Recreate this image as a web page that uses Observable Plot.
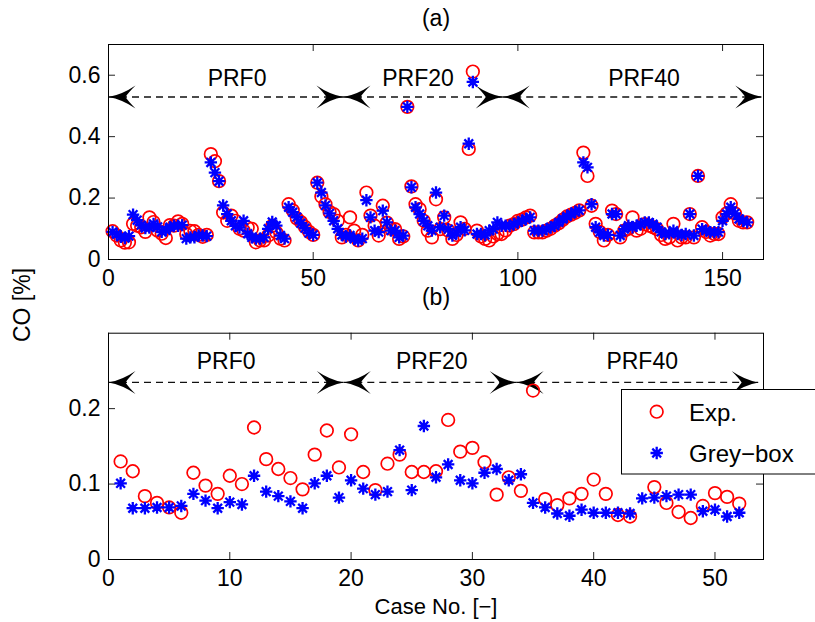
<!DOCTYPE html>
<html><head><meta charset="utf-8">
<script src="https://cdn.jsdelivr.net/npm/d3@7"></script>
<script src="https://cdn.jsdelivr.net/npm/@observablehq/plot@0.6"></script>
<style>
body{margin:0;background:#fff;}
#fig{position:relative;width:815px;height:622px;background:#fff;font-family:"Liberation Sans",Arial,sans-serif;}
#fig > div, #fig > svg{position:absolute;left:0;}
</style></head><body>
<div id="fig"><div id="pa" style="top:0"></div><div id="pb" style="top:290px"></div></div>
<script>
// ---------- data (a) : case 1..156 ----------
const expA = [
0.092,0.078,0.062,0.055,0.056,0.116,0.110,0.105,0.090,0.137,
0.122,0.094,0.084,0.070,0.112,0.110,0.124,0.116,0.083,0.093,
0.092,0.080,0.074,0.080,0.343,0.320,0.255,0.153,0.126,0.143,
0.126,0.100,0.094,0.104,0.100,0.056,0.062,0.062,0.078,0.110,
0.088,0.068,0.062,0.180,0.160,0.134,0.122,0.106,0.090,0.080,
0.250,0.205,0.180,0.155,0.148,0.126,0.072,0.080,0.137,0.094,
0.062,0.080,0.218,0.143,0.110,0.078,0.175,0.120,0.100,0.099,
0.067,0.075,0.497,0.238,0.180,0.164,0.126,0.094,0.072,0.196,
0.099,0.137,0.094,0.067,0.080,0.121,0.100,0.360,0.612,0.094,
0.075,0.067,0.062,0.075,0.083,0.083,0.095,0.110,0.115,0.126,
0.130,0.137,0.143,0.088,0.088,0.088,0.094,0.100,0.110,0.118,
0.130,0.140,0.146,0.152,0.160,0.348,0.272,0.175,0.116,0.090,
0.062,0.080,0.159,0.148,0.072,0.094,0.100,0.137,0.094,0.100,
0.115,0.110,0.105,0.099,0.080,0.067,0.072,0.116,0.062,0.072,
0.072,0.148,0.072,0.272,0.105,0.090,0.078,0.083,0.083,0.137,
0.150,0.180,0.150,0.126,0.121,0.121];
const greyA = [
0.090,0.082,0.074,0.070,0.076,0.146,0.128,0.112,0.102,0.104,
0.116,0.106,0.090,0.095,0.105,0.110,0.110,0.112,0.068,0.072,
0.072,0.078,0.078,0.076,0.316,0.283,0.255,0.176,0.148,0.126,
0.110,0.104,0.126,0.084,0.072,0.068,0.068,0.072,0.100,0.122,
0.110,0.078,0.068,0.170,0.154,0.138,0.118,0.102,0.086,0.080,
0.250,0.218,0.176,0.150,0.126,0.100,0.080,0.075,0.078,0.067,
0.062,0.068,0.193,0.137,0.094,0.089,0.159,0.121,0.094,0.094,
0.072,0.078,0.497,0.235,0.170,0.148,0.126,0.110,0.094,0.218,
0.105,0.143,0.099,0.078,0.088,0.105,0.095,0.377,0.578,0.083,
0.083,0.080,0.094,0.099,0.121,0.110,0.110,0.110,0.115,0.121,
0.126,0.132,0.137,0.094,0.094,0.094,0.099,0.105,0.110,0.121,
0.132,0.140,0.148,0.155,0.160,0.316,0.300,0.180,0.105,0.089,
0.078,0.080,0.148,0.148,0.078,0.099,0.110,0.105,0.110,0.115,
0.121,0.121,0.115,0.105,0.090,0.083,0.085,0.094,0.083,0.080,
0.083,0.148,0.078,0.272,0.099,0.094,0.089,0.089,0.089,0.126,
0.148,0.170,0.150,0.132,0.126,0.121];
// ---------- data (b) : case 1..52 ----------
const expB = [
0.130,0.117,0.084,0.075,0.069,0.062,0.115,0.098,0.087,0.111,
0.100,0.175,0.133,0.120,0.108,0.093,0.139,0.171,0.122,0.166,
0.116,0.092,0.127,0.139,0.116,0.116,0.117,0.185,0.143,0.148,
0.129,0.086,0.109,0.091,0.224,0.080,0.072,0.081,0.087,0.106,
0.087,0.059,0.057,0.130,0.096,0.075,0.063,0.055,0.071,0.088,
0.083,0.074];
const greyB = [
0.101,0.068,0.068,0.069,0.069,0.071,0.087,0.078,0.068,0.076,
0.073,0.111,0.090,0.084,0.077,0.068,0.101,0.111,0.082,0.105,
0.094,0.086,0.090,0.145,0.092,0.177,0.109,0.126,0.105,0.101,
0.115,0.120,0.105,0.113,0.075,0.069,0.061,0.058,0.066,0.062,
0.062,0.062,0.061,0.081,0.082,0.084,0.086,0.086,0.064,0.066,
0.057,0.062];
// ---------- ticks / labels ----------
const xTicksA = [0, 50, 100, 150];
const yTicksA = [0, 0.2, 0.4, 0.6];
const xTicksB = [0, 10, 20, 30, 40, 50];
const yTicksB = [0, 0.1, 0.2];
const regionNames = ["PRF0", "PRF20", "PRF40"];
const regionStartA = [0, 57.4, 96.3];
const regionEndA = [57.4, 96.3, 159.7];
const regionLabelXA = [31.4, 75.6, 130.8];
const regionStartB = [0, 19.4, 33.65];
const regionEndB = [19.4, 33.65, 53.6];
const regionLabelXB = [9.7, 26.65, 44.0];
const seriesNames = ["Exp.", "Grey\u2212box"];

// ---------- symbols ----------
const star8 = {draw(ctx, size) {
  const r = Math.sqrt(size / Math.PI);
  for (let k = 0; k < 4; k++) {
    const a = k * Math.PI / 4, c = Math.cos(a) * r, s = Math.sin(a) * r;
    ctx.moveTo(c, s); ctx.lineTo(-c, -s);
  }
}};
const arrowHead = {draw(ctx) {
  const L = 27, W = 11.5, N = 17;
  ctx.moveTo(0, 0);
  ctx.quadraticCurveTo(-L * 0.5, -W * 0.2, -L, -W);
  ctx.quadraticCurveTo(-N - 3, -W * 0.4, -N, 0);
  ctx.quadraticCurveTo(-N - 3, W * 0.4, -L, W);
  ctx.quadraticCurveTo(-L * 0.5, W * 0.2, 0, 0);
  ctx.closePath();
}};

const FW = 815, ML = 108, MR = 52, frameW = FW - ML - MR;
const FONT = "Liberation Sans, Arial, Helvetica, sans-serif";

function panel(o) {
  const fh = o.height - o.mt - o.mb;
  const heads = [];
  o.starts.forEach((s, i) => { heads.push({x: s, rot: 180}); heads.push({x: o.ends[i], rot: 0}); });
  const marks = [
    Plot.tickX(o.xTicks, {x: d => d, insetTop: fh - 7, stroke: "#222"}),
    Plot.tickX(o.xTicks, {x: d => d, insetBottom: fh - 7, stroke: "#222"}),
    Plot.tickY(o.yTicks, {y: d => d, insetRight: frameW - 7, stroke: "#222"}),
    Plot.tickY(o.yTicks, {y: d => d, insetLeft: frameW - 7, stroke: "#222"}),
    Plot.ruleY(regionNames, {y: () => o.arrowY, x1: (d, i) => o.starts[i], x2: (d, i) => o.ends[i],
      stroke: "#111", strokeWidth: 1.3, strokeDasharray: "7,5"}),
    Plot.dot(heads, {x: "x", y: () => o.arrowY, rotate: "rot", symbol: arrowHead, r: 10, fill: "#000", stroke: "none"}),
    Plot.text(regionNames, {x: (d, i) => o.labelX[i], y: () => o.labelY, text: d => d, fontSize: 23, fill: "#000"}),
    Plot.dot(o.exp, {x: (d, i) => i + 1, y: d => d, symbol: "circle", r: 6.3, fill: "none", stroke: "#ff0000", strokeWidth: 1.7}),
    Plot.dot(o.grey, {x: (d, i) => i + 1, y: d => d, symbol: star8, r: 6.2, fill: "none", stroke: "#0000ff", strokeWidth: 2.3}),
    Plot.frame({stroke: "#000"}),
    Plot.text([o.title], {frameAnchor: "top", lineAnchor: "middle", dy: o.titleDy, fontSize: 23, fill: "#000"})
  ];
  if (o.xlabel) marks.push(Plot.text([o.xlabel], {frameAnchor: "bottom", lineAnchor: "middle", dy: o.xlabelDy, fontSize: 22, fill: "#000"}));
  return Plot.plot({
    width: FW, height: o.height,
    marginLeft: ML, marginRight: MR, marginTop: o.mt, marginBottom: o.mb,
    style: {fontFamily: FONT, fontSize: "23px", color: "#000", background: "transparent", overflow: "visible"},
    x: {domain: o.xDomain, ticks: o.xTicks, tickSize: 0, tickPadding: 10, label: null, tickFormat: d => String(d)},
    y: {domain: o.yDomain, ticks: o.yTicks, tickSize: 0, tickPadding: 8, label: null, tickFormat: d => String(d)},
    marks
  });
}

document.getElementById("pa").append(panel({
  exp: expA, grey: greyA, xDomain: [0, 160], yDomain: [0, 0.7], xTicks: xTicksA, yTicks: yTicksA,
  starts: regionStartA, ends: regionEndA, labelX: regionLabelXA, arrowY: 0.529, labelY: 0.59,
  height: 290, mt: 44, mb: 31, title: "(a)", titleDy: -26
}));
document.getElementById("pb").append(panel({
  exp: expB, grey: greyB, xDomain: [0, 54], yDomain: [0, 0.3], xTicks: xTicksB, yTicks: yTicksB,
  starts: regionStartB, ends: regionEndB, labelX: regionLabelXB, arrowY: 0.2347, labelY: 0.262,
  height: 332, mt: 42.7, mb: 63, title: "(b)", titleDy: -36, xlabel: "Case No. [\u2212]", xlabelDy: 47
}));

// ---------- overlay: shared y label and legend ----------
const ov = d3.select("#fig").append("svg").attr("width", 815).attr("height", 622)
  .style("top", "0px").style("pointer-events", "none")
  .style("font-family", FONT).style("font-size", "23px");
ov.append("text").attr("transform", "translate(22,305) rotate(-90)")
  .attr("text-anchor", "middle").attr("dominant-baseline", "central").text("CO [%]");
const lg = ov.append("g");
lg.append("rect").attr("x", 621.5).attr("y", 389.5).attr("width", 200).attr("height", 84.5)
  .attr("fill", "#fff").attr("stroke", "#000").attr("stroke-width", 1);
lg.append("circle").attr("cx", 656.7).attr("cy", 411.7).attr("r", 6.3).attr("fill", "none")
  .attr("stroke", "#ff0000").attr("stroke-width", 1.7);
const sp = d3.path(); star8.draw(sp, 6.2 * 6.2 * Math.PI);
lg.append("path").attr("transform", "translate(656.7,453)").attr("d", sp.toString())
  .attr("fill", "none").attr("stroke", "#0000ff").attr("stroke-width", 2.3);
lg.selectAll("text.lt").data(seriesNames).join("text").attr("class", "lt")
  .attr("x", 689).attr("y", (d, i) => i ? 453 : 412).attr("dominant-baseline", "central")
  .style("font-size", "24px").text(d => d);
</script>
</body></html>
